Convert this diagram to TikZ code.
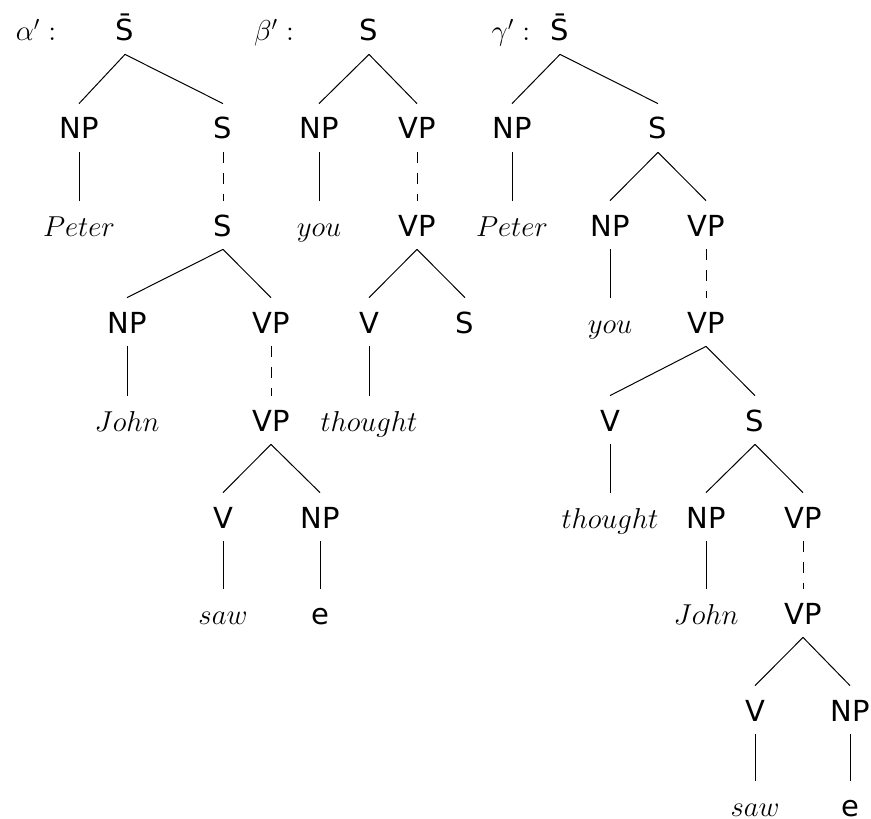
\documentclass[tikz,border=0pt]{standalone}
\usepackage{fontspec}
\setsansfont{DejaVu Sans}
\begin{document}
\begin{tikzpicture}[x=0.5pt,y=-0.5pt,
  every node/.style={inner sep=0pt,text height=11pt,text depth=0pt,minimum height=24pt,font=\fontsize{14.5}{17}\selectfont},
  cat/.style={font=\fontsize{14.5}{17}\sffamily},
  wd/.style={},
  lbl/.style={},
  edge/.style={line width=0.5pt},
  dedge/.style={line width=0.5pt,dash pattern=on 5.5pt off 5pt}]
\useasboundingbox (0,0) rectangle (871,818);
% alpha'
\node[lbl] (la) at (36,30) {$\alpha' :$};
\node[cat] (a0) at (125,30) {\=S};
\node[cat] (a1) at (79,128) {NP};
\node[cat] (a2) at (223,128) {S};
\node[wd] (a3) at (79,225) {$Peter$};
\node[cat] (a4) at (223,225) {S};
\node[cat] (a5) at (127,322) {NP};
\node[cat] (a6) at (271,322) {VP};
\node[wd] (a7) at (127,420) {$John$};
\node[cat] (a8) at (271,420) {VP};
\node[cat] (a9) at (223,517) {V};
\node[cat] (a10) at (320,517) {NP};
\node[wd] (a11) at (223,613) {$saw$};
\node[cat] (a12) at (320,613) {e};
\draw[edge] (a0.south) -- (a1.north);
\draw[edge] (a0.south) -- (a2.north);
\draw[edge] (a1.south) -- (a3.north);
\draw[dedge] (a2.south) -- (a4.north);
\draw[edge] (a4.south) -- (a5.north);
\draw[edge] (a4.south) -- (a6.north);
\draw[edge] (a5.south) -- (a7.north);
\draw[dedge] (a6.south) -- (a8.north);
\draw[edge] (a8.south) -- (a9.north);
\draw[edge] (a8.south) -- (a10.north);
\draw[edge] (a9.south) -- (a11.north);
\draw[edge] (a10.south) -- (a12.north);
% beta'
\node[lbl] (lb) at (274,30) {$\beta' :$};
\node[cat] (b0) at (369,30) {S};
\node[cat] (b1) at (319,128) {NP};
\node[cat] (b2) at (417,128) {VP};
\node[wd] (b3) at (319,225) {$you$};
\node[cat] (b4) at (417,225) {VP};
\node[cat] (b5) at (369,322) {V};
\node[cat] (b6) at (465,322) {S};
\node[wd] (b7) at (369,420) {$thought$};
\draw[edge] (b0.south) -- (b1.north);
\draw[edge] (b0.south) -- (b2.north);
\draw[edge] (b1.south) -- (b3.north);
\draw[dedge] (b2.south) -- (b4.north);
\draw[edge] (b4.south) -- (b5.north);
\draw[edge] (b4.south) -- (b6.north);
\draw[edge] (b5.south) -- (b7.north);
% gamma'
\node[lbl] (lg) at (511,30) {$\gamma' :$};
\node[cat] (g0) at (560,30) {\=S};
\node[cat] (g1) at (512,128) {NP};
\node[cat] (g2) at (658,128) {S};
\node[wd] (g3) at (512,225) {$Peter$};
\node[cat] (g4) at (610,225) {NP};
\node[cat] (g5) at (706,225) {VP};
\node[wd] (g6) at (610,322) {$you$};
\node[cat] (g7) at (706,322) {VP};
\node[cat] (g8) at (610,420) {V};
\node[cat] (g9) at (755,420) {S};
\node[wd] (g10) at (610,517) {$thought$};
\node[cat] (g11) at (706,517) {NP};
\node[cat] (g12) at (803,517) {VP};
\node[wd] (g13) at (706,613) {$John$};
\node[cat] (g14) at (803,613) {VP};
\node[cat] (g15) at (755,710) {V};
\node[cat] (g16) at (850,710) {NP};
\node[wd] (g17) at (755,805) {$saw$};
\node[cat] (g18) at (850,805) {e};
\draw[edge] (g0.south) -- (g1.north);
\draw[edge] (g0.south) -- (g2.north);
\draw[edge] (g1.south) -- (g3.north);
\draw[edge] (g2.south) -- (g4.north);
\draw[edge] (g2.south) -- (g5.north);
\draw[edge] (g4.south) -- (g6.north);
\draw[dedge] (g5.south) -- (g7.north);
\draw[edge] (g7.south) -- (g8.north);
\draw[edge] (g7.south) -- (g9.north);
\draw[edge] (g8.south) -- (g10.north);
\draw[edge] (g9.south) -- (g11.north);
\draw[edge] (g9.south) -- (g12.north);
\draw[edge] (g11.south) -- (g13.north);
\draw[dedge] (g12.south) -- (g14.north);
\draw[edge] (g14.south) -- (g15.north);
\draw[edge] (g14.south) -- (g16.north);
\draw[edge] (g15.south) -- (g17.north);
\draw[edge] (g16.south) -- (g18.north);
\end{tikzpicture}
\end{document}
